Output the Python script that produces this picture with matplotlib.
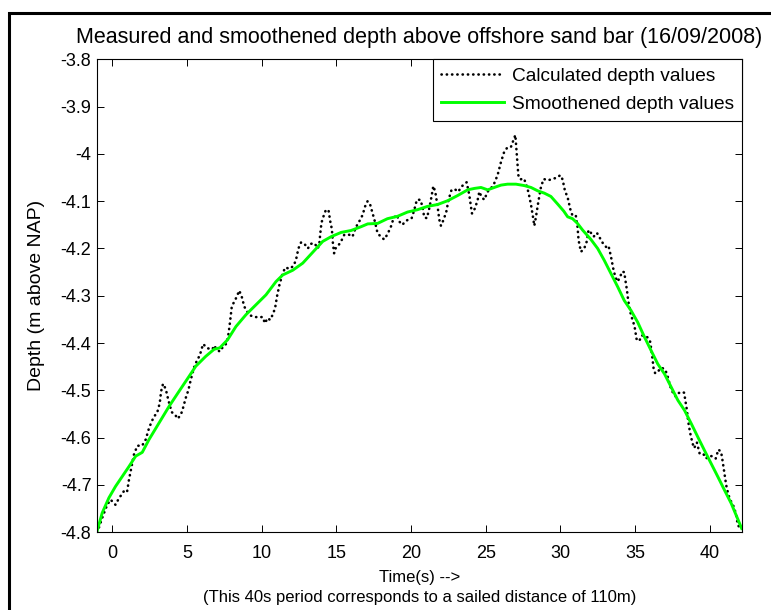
import matplotlib.pyplot as plt
from matplotlib.patches import Rectangle

plt.rcParams["font.family"] = ["Liberation Sans", "DejaVu Sans"]

# Depth computed from the echo sounder, sampled along the track
calc_time = [
    -1.02, -0.89, -0.63, -0.34, -0.11, 0.22, 0.40, 0.67, 0.85, 1.00, 1.12,
    1.30, 1.45, 1.68, 2.00, 2.24, 2.46, 2.64, 2.80, 3.00, 3.18, 3.27, 3.40,
    3.58, 3.76, 3.98, 4.20, 4.38, 4.60, 4.74, 4.92, 5.10, 5.26, 5.50, 5.70,
    5.86, 6.08, 6.38, 6.71, 6.82, 6.98, 7.20, 7.43, 7.65, 7.79, 7.90, 8.00,
    8.17, 8.32, 8.50, 8.66, 8.84, 9.06, 9.28, 9.57, 9.84, 10.07, 10.22,
    10.40, 10.56, 10.74, 10.90, 11.03, 11.19, 11.41, 11.59, 11.86, 12.13,
    12.30, 12.46, 12.64, 12.86, 13.09, 13.31, 13.54, 13.76, 13.87, 13.91,
    14.00, 14.14, 14.28, 14.47, 14.60, 14.70, 14.77, 14.85, 14.94, 15.08,
    15.30, 15.53, 15.86, 16.08, 16.31, 16.53, 16.76, 16.91, 17.09, 17.27,
    17.43, 17.58, 17.76, 17.98, 18.20, 18.42, 18.65, 18.83, 19.05, 19.21,
    19.43, 19.59, 19.81, 20.04, 20.21, 20.39, 20.62, 20.77, 20.88, 21.06,
    21.22, 21.33, 21.49, 21.62, 21.78, 21.89, 22.00, 22.18, 22.36, 22.51,
    22.71, 22.94, 23.16, 23.38, 23.72, 23.90, 24.01, 24.08, 24.28, 24.46,
    24.57, 24.72, 24.90, 25.12, 25.35, 25.57, 25.79, 26.02, 26.24, 26.46,
    26.69, 26.84, 26.98, 27.09, 27.18, 27.31, 27.54, 27.69, 27.87, 28.03,
    28.16, 28.25, 28.36, 28.52, 28.70, 28.88, 29.14, 29.48, 29.77, 29.99,
    30.14, 30.30, 30.48, 30.66, 30.81, 31.03, 31.14, 31.21, 31.37, 31.59,
    31.75, 31.88, 32.04, 32.22, 32.44, 32.66, 32.86, 33.09, 33.22, 33.38,
    33.53, 33.67, 33.82, 34.00, 34.11, 34.27, 34.34, 34.45, 34.54, 34.72,
    34.87, 34.98, 35.09, 35.27, 35.43, 35.60, 35.83, 36.00, 36.12, 36.23,
    36.34, 36.54, 36.68, 36.83, 37.01, 37.17, 37.35, 37.57, 37.72, 37.88,
    38.13, 38.28, 38.35, 38.46, 38.55, 38.68, 38.84, 38.95, 39.13, 39.31,
    39.54, 39.74, 39.96, 40.19, 40.39, 40.57, 40.75, 40.86, 40.97, 41.09,
    41.24, 41.42, 41.60, 41.76, 41.87, 41.98, 42.13,
]
calc_depth = [
    -4.800, -4.790, -4.766, -4.742, -4.731, -4.742, -4.731, -4.718, -4.710,
    -4.713, -4.689, -4.660, -4.636, -4.617, -4.617, -4.604, -4.580, -4.566,
    -4.555, -4.548, -4.527, -4.502, -4.486, -4.497, -4.521, -4.546, -4.551,
    -4.560, -4.551, -4.537, -4.516, -4.499, -4.477, -4.449, -4.435, -4.426,
    -4.402, -4.411, -4.413, -4.405, -4.413, -4.418, -4.407, -4.401, -4.379,
    -4.351, -4.323, -4.312, -4.303, -4.289, -4.301, -4.323, -4.335, -4.342,
    -4.345, -4.345, -4.345, -4.358, -4.347, -4.351, -4.340, -4.326, -4.301,
    -4.277, -4.252, -4.240, -4.243, -4.237, -4.224, -4.200, -4.187, -4.190,
    -4.200, -4.190, -4.189, -4.200, -4.187, -4.173, -4.146, -4.132, -4.120,
    -4.118, -4.144, -4.159, -4.189, -4.210, -4.200, -4.196, -4.186, -4.171,
    -4.171, -4.175, -4.155, -4.143, -4.129, -4.112, -4.100, -4.108, -4.126,
    -4.143, -4.168, -4.175, -4.181, -4.170, -4.154, -4.136, -4.129, -4.143,
    -4.150, -4.143, -4.139, -4.136, -4.119, -4.097, -4.097, -4.112, -4.134,
    -4.136, -4.115, -4.097, -4.068, -4.080, -4.112, -4.139, -4.152, -4.139,
    -4.122, -4.097, -4.076, -4.075, -4.080, -4.069, -4.060, -4.087, -4.112,
    -4.126, -4.115, -4.097, -4.080, -4.091, -4.097, -4.080, -4.073, -4.062,
    -4.045, -4.017, -3.995, -3.986, -3.985, -3.972, -3.960, -4.006, -4.045,
    -4.054, -4.052, -4.062, -4.083, -4.108, -4.133, -4.152, -4.133, -4.101,
    -4.069, -4.053, -4.056, -4.053, -4.050, -4.045, -4.054, -4.078, -4.092,
    -4.117, -4.131, -4.131, -4.154, -4.182, -4.207, -4.200, -4.186, -4.161,
    -4.167, -4.175, -4.167, -4.179, -4.190, -4.198, -4.195, -4.217, -4.242,
    -4.260, -4.270, -4.260, -4.249, -4.250, -4.266, -4.288, -4.312, -4.341,
    -4.355, -4.369, -4.391, -4.396, -4.384, -4.384, -4.388, -4.397, -4.422,
    -4.453, -4.464, -4.460, -4.453, -4.453, -4.456, -4.470, -4.492, -4.508,
    -4.513, -4.506, -4.503, -4.505, -4.520, -4.541, -4.566, -4.590, -4.612,
    -4.622, -4.610, -4.633, -4.633, -4.644, -4.639, -4.639, -4.644, -4.625,
    -4.630, -4.651, -4.675, -4.700, -4.721, -4.735, -4.746, -4.763, -4.785,
    -4.789, -4.795,
]

# Moving-average smoothed depth
smooth_time = [
    -1.02, -0.67, -0.22, 0.22, 0.67, 1.12, 1.57, 2.01, 2.46, 3.13, 3.80,
    4.47, 5.15, 5.59, 6.26, 6.82, 7.20, 7.72, 8.28, 8.95, 9.62, 10.29,
    10.96, 11.41, 12.08, 12.75, 13.42, 14.09, 14.65, 15.32, 15.98, 16.65,
    17.10, 17.76, 18.42, 19.09, 19.76, 20.43, 21.10, 21.78, 22.45, 23.12,
    23.79, 24.24, 24.68, 25.13, 25.57, 26.02, 26.46, 27.02, 27.58, 28.03,
    28.47, 28.92, 29.36, 29.81, 30.22, 30.48, 30.81, 31.14, 31.48, 32.04,
    32.49, 32.93, 33.38, 33.83, 34.27, 34.72, 35.17, 35.62, 36.07, 36.51,
    36.96, 37.41, 37.86, 38.30, 38.75, 39.20, 39.64, 40.09, 40.54, 40.98,
    41.43, 41.76, 42.13,
]
smooth_depth = [
    -4.798, -4.759, -4.727, -4.703, -4.682, -4.661, -4.639, -4.631, -4.604,
    -4.569, -4.534, -4.502, -4.470, -4.449, -4.428, -4.413, -4.410, -4.393,
    -4.365, -4.340, -4.319, -4.298, -4.270, -4.256, -4.246, -4.231, -4.208,
    -4.185, -4.175, -4.166, -4.162, -4.154, -4.148, -4.147, -4.137, -4.132,
    -4.123, -4.118, -4.111, -4.107, -4.099, -4.088, -4.076, -4.073, -4.071,
    -4.076, -4.071, -4.066, -4.064, -4.064, -4.067, -4.071, -4.078, -4.083,
    -4.090, -4.106, -4.121, -4.133, -4.137, -4.147, -4.161, -4.181, -4.200,
    -4.225, -4.253, -4.281, -4.310, -4.331, -4.356, -4.387, -4.416, -4.444,
    -4.465, -4.493, -4.521, -4.542, -4.570, -4.599, -4.627, -4.655, -4.683,
    -4.711, -4.739, -4.764, -4.792,
]

x_ticks = [0, 5, 10, 15, 20, 25, 30, 35, 40]
y_ticks = [-4.8, -4.7, -4.6, -4.5, -4.4, -4.3, -4.2, -4.1, -4.0, -3.9, -3.8]
y_tick_labels = ["-4.8", "-4.7", "-4.6", "-4.5", "-4.4", "-4.3", "-4.2",
                 "-4.1", "-4", "-3.9", "-3.8"]

fig = plt.figure(figsize=(7.71, 6.10), dpi=100)
ax = fig.add_axes([0.1258, 0.1274, 0.8362, 0.7754])

ax.plot(calc_time, calc_depth, color="black", linewidth=1.9,
        linestyle=(0, (0.1, 1.9)), dash_capstyle="round",
        label="Calculated depth values")
ax.plot(smooth_time, smooth_depth, color="#00ff00", linewidth=2.1,
        label="Smoothened depth values")

ax.set_xlim(-1.02, 42.13)
ax.set_ylim(-4.8, -3.8)
ax.set_xticks(x_ticks)
ax.set_yticks(y_ticks)
ax.set_yticklabels(y_tick_labels)
ax.tick_params(direction="in", top=True, right=True, length=5, width=0.7,
               labelsize=13)
ax.tick_params(axis="x", pad=9)
ax.tick_params(axis="y", pad=4)
for spine in ax.spines.values():
    spine.set_linewidth(0.8)

ax.set_title("Measured and smoothened depth above offshore sand bar (16/09/2008)",
             fontsize=15.5, pad=12)
ax.set_xlabel("Time(s) -->\n(This 40s period corresponds to a sailed distance of 110m)",
              fontsize=12, labelpad=6, linespacing=1.4)
ax.set_ylabel("Depth (m above NAP)", fontsize=14, labelpad=11)

leg = ax.legend(loc="upper right", borderaxespad=0, fontsize=13.8,
                fancybox=False, framealpha=1, edgecolor="black",
                handlelength=3.3, handletextpad=0.4, labelspacing=0.55,
                borderpad=0.42)
leg.get_frame().set_linewidth(0.8)

# outer frame around the figure
fig.patches.append(Rectangle((9 / 771, -0.1), 1.2, (610 - 13) / 610 + 0.1,
                             transform=fig.transFigure, fill=False,
                             edgecolor="black", linewidth=2.2))

fig.savefig("out.png", dpi=100)
